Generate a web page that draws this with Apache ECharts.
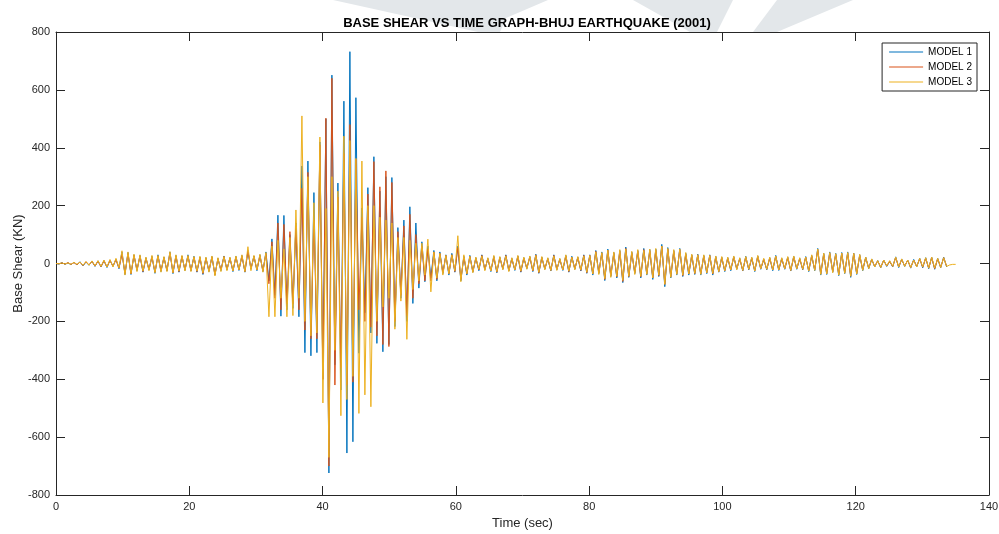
<!DOCTYPE html>
<html>
<head>
<meta charset="utf-8">
<script src="https://cdn.jsdelivr.net/npm/echarts@6/dist/echarts.min.js"></script>
<style>
  html, body { margin: 0; padding: 0; background: #fff; }
  #chart { width: 999px; height: 534px; }
</style>
</head>
<body>
<div id="chart"></div>
<script>
// time step between read-off turning points (sec)
var timeStep = 0.45;

// base shear (KN), one value per time step
var model1 = [
    0, -2, 3, -3, 2, -4, 4, -5, 6, -8,
    5, -6, 8, -10, 9, -12, 10, -14, 12, -10,
    15, -18, 40, -38, 38, -38, 30, -25, 28, -30,
    20, -22, 25, -34, 30, -28, 22, -26, 40, -35,
    28, -30, 26, -24, 30, -26, 25, -30, 22, -38,
    20, -28, 24, -40, 18, -25, 26, -22, 20, -28,
    25, -24, 28, -30, 45, -20, 26, -25, 30, -28,
    40, -60, 85, -110, 167, -182, 166, -160, 100, -155,
    140, -184, 337, -308, 354, -319, 245, -308, 420, -400,
    500, -724, 651, -350, 278, -437, 561, -655, 732, -616,
    573, -310, 192, -170, 262, -240, 369, -276, 250, -305,
    300, -280, 297, -218, 124, -120, 150, -200, 196, -138,
    140, -85, 75, -63, 60, -50, 45, -60, 40, -35,
    30, -40, 35, -30, 60, -60, 25, -40, 28, -30,
    20, -25, 30, -22, 18, -28, 25, -32, 22, -20,
    30, -26, 18, -24, 26, -30, 20, -18, 24, -28,
    32, -34, 22, -20, 18, -26, 30, -22, 16, -24,
    28, -30, 25, -20, 22, -26, 30, -34, 30, -40,
    45, -35, 40, -59, 50, -45, 38, -50, 45, -66,
    57, -48, 40, -35, 45, -50, 52, -40, 48, -55,
    50, -45, 66, -80, 55, -50, 45, -40, 52, -45,
    35, -40, 30, -38, 32, -40, 28, -35, 30, -40,
    25, -30, 22, -28, 20, -25, 24, -20, 18, -26,
    25, -22, 20, -28, 26, -20, 15, -22, 20, -25,
    28, -24, 18, -20, 22, -26, 25, -20, 18, -22,
    24, -28, 28, -25, 52, -40, 35, -38, 40, -30,
    35, -42, 38, -35, 40, -48, 36, -38, 30, -25,
    22, -18, 15, -12, 10, -15, 12, -10, 8, -12,
    23, -14, 15, -10, 12, -16, 14, -12, 18, -15,
    20, -18, 22, -20, 18, -15, 22, -12, null, null,
    null
];

var model2 = [
    0, -1, 2, -2, 3, -3, 3, -4, 5, -7,
    6, -5, 7, -9, 8, -11, 9, -12, 10, -9,
    13, -16, 32, -34, 34, -36, 28, -22, 25, -28,
    18, -20, 22, -30, 26, -25, 20, -24, 36, -32,
    25, -28, 24, -22, 26, -24, 22, -28, 20, -35,
    18, -25, 22, -38, 16, -22, 24, -20, 18, -25,
    22, -22, 25, -28, 42, -18, 24, -22, 26, -25,
    35, -70, 75, -120, 140, -160, 135, -140, 110, -140,
    130, -160, 260, -230, 315, -260, 150, -260, 410, -400,
    502, -700, 640, -420, 230, -360, 380, -420, 480, -410,
    360, -160, 160, -200, 240, -220, 352, -250, 265, -280,
    320, -287, 280, -200, 110, -110, 130, -180, 170, -120,
    100, -70, 60, -60, 50, -60, 40, -55, 35, -32,
    28, -35, 30, -28, 55, -55, 22, -36, 25, -28,
    18, -22, 28, -20, 16, -25, 22, -30, 20, -18,
    28, -24, 16, -22, 24, -28, 18, -16, 22, -26,
    30, -32, 20, -18, 16, -24, 28, -20, 14, -22,
    26, -28, 22, -18, 20, -24, 28, -32, 28, -36,
    42, -32, 36, -55, 46, -42, 35, -46, 42, -62,
    52, -45, 36, -32, 42, -46, 48, -36, 44, -50,
    46, -42, 60, -72, 50, -46, 42, -36, 48, -42,
    32, -36, 28, -35, 30, -36, 26, -32, 28, -36,
    22, -28, 20, -25, 18, -22, 22, -18, 16, -24,
    22, -20, 18, -25, 24, -18, 14, -20, 18, -22,
    25, -22, 16, -18, 20, -24, 22, -18, 16, -20,
    22, -25, 26, -22, 48, -36, 32, -35, 36, -28,
    32, -38, 35, -32, 36, -44, 34, -35, 28, -22,
    20, -16, 14, -10, 9, -13, 11, -9, 7, -10,
    20, -12, 14, -9, 11, -14, 12, -10, 16, -13,
    18, -16, 20, -18, 16, -13, 20, -10, null, null,
    null
];

var model3 = [
    0, -1, 2, -2, 2, -3, 4, -3, 5, -6,
    7, -6, 9, -8, 10, -10, 12, -12, 14, -12,
    18, -15, 44, -40, 40, -35, 32, -28, 30, -26,
    22, -25, 28, -32, 28, -30, 24, -28, 41, -32,
    30, -26, 28, -26, 28, -28, 24, -26, 25, -32,
    22, -30, 26, -43, 20, -28, 24, -25, 22, -26,
    26, -22, 30, -28, 58, -25, 28, -22, 32, -30,
    38, -184, 60, -184, 80, -120, 50, -184, 90, -180,
    185, -120, 510, -200, 300, -250, 210, -240, 437, -482,
    190, -670, 300, -300, 250, -526, 440, -470, 425, -390,
    363, -518, 354, -454, 200, -495, 200, -200, 160, -150,
    150, -120, 140, -227, 90, -130, 90, -262, 80, -90,
    70, -60, 70, -40, 84, -98, 40, -50, 35, -40,
    28, -35, 30, -25, 96, -63, 30, -35, 25, -32,
    22, -20, 26, -25, 20, -26, 28, -28, 24, -22,
    26, -28, 20, -22, 28, -26, 22, -20, 26, -24,
    28, -30, 24, -22, 20, -24, 26, -24, 18, -22,
    30, -26, 22, -22, 24, -22, 26, -30, 28, -36,
    40, -38, 38, -52, 46, -48, 40, -44, 48, -58,
    50, -44, 42, -38, 48, -44, 45, -38, 50, -50,
    52, -40, 60, -72, 52, -48, 48, -38, 50, -40,
    38, -36, 32, -34, 30, -38, 30, -32, 28, -34,
    26, -28, 24, -25, 22, -22, 26, -22, 20, -24,
    24, -20, 22, -26, 28, -18, 18, -20, 22, -22,
    26, -22, 20, -18, 24, -24, 26, -18, 20, -20,
    22, -26, 30, -24, 50, -38, 36, -36, 38, -32,
    34, -40, 36, -34, 38, -44, 35, -36, 32, -24,
    22, -18, 16, -12, 10, -14, 12, -8, 10, -10,
    22, -12, 16, -10, 12, -14, 12, -12, 18, -12,
    20, -16, 22, -16, 18, -14, 20, -10, -5, -3,
    -3
];

var seriesNames = ['MODEL 1', 'MODEL 2', 'MODEL 3'];
var seriesColors = ['#0072BD', '#D95319', '#EDB120'];
var xTicks = [0, 20, 40, 60, 80, 100, 120, 140];
var yTicks = [-800, -600, -400, -200, 0, 200, 400, 600, 800];

(function () {
    var myChart = echarts.init(document.getElementById('chart'), null, { renderer: 'canvas' });
    var font = 'Liberation Sans, Arial, sans-serif';
    var axisColor = '#262626';
    var markColor = '#e3e7ea'; // faint watermark behind the title

    function toPoints(values) {
        return values.map(function (v, i) {
            return [+(i * timeStep).toFixed(2), v];
        });
    }

    var boxAxis = {
        axisLine: { show: true, onZero: false, lineStyle: { color: axisColor, width: 1 } },
        axisTick: { show: true, inside: true, length: 9, lineStyle: { color: axisColor } },
        splitLine: { show: false }
    };

    var option = {
        animation: false,
        backgroundColor: '#fff',
        graphic: [
            { type: 'polygon', z: -10, silent: true, shape: { points: [[333, 0], [548, 0], [506, 18], [500, 32], [478, 32]] }, style: { fill: markColor } },
            { type: 'polygon', z: -10, silent: true, shape: { points: [[633, 0], [733, 0], [717, 32], [690, 32]] }, style: { fill: markColor } },
            { type: 'polygon', z: -10, silent: true, shape: { points: [[777, 0], [853, 0], [777, 32], [753, 32]] }, style: { fill: markColor } }
        ],
        title: {
            text: 'BASE SHEAR VS TIME GRAPH-BHUJ EARTHQUAKE (2001)',
            left: 522,
            textAlign: 'center',
            top: 12,
            textStyle: { fontFamily: font, fontSize: 13, fontWeight: 'bold', color: '#000' }
        },
        legend: {
            data: seriesNames,
            orient: 'vertical',
            right: 22,
            top: 43,
            icon: 'rect',
            itemWidth: 34,
            itemHeight: 1,
            itemGap: 3,
            padding: [3, 5, 3, 7],
            borderColor: '#262626',
            borderWidth: 1,
            backgroundColor: '#fff',
            textStyle: { fontFamily: font, fontSize: 10, lineHeight: 12, color: '#000' }
        },
        grid: { left: 56, right: 10, top: 32, bottom: 39, outerBoundsMode: 'none' },
        xAxis: [
            Object.assign({}, boxAxis, {
                type: 'value', min: xTicks[0], max: xTicks[xTicks.length - 1], interval: 20,
                name: 'Time (sec)', nameLocation: 'middle', nameGap: 22, nameMoveOverlap: false,
                nameTextStyle: { fontFamily: font, fontSize: 13, color: axisColor },
                axisLabel: { fontFamily: font, fontSize: 11, color: axisColor, margin: 6 }
            }),
            Object.assign({}, boxAxis, {
                type: 'value', position: 'top', min: xTicks[0], max: xTicks[xTicks.length - 1], interval: 20,
                axisLabel: { show: false }
            })
        ],
        yAxis: [
            Object.assign({}, boxAxis, {
                type: 'value', min: yTicks[0], max: yTicks[yTicks.length - 1], interval: 200,
                name: 'Base Shear (KN)', nameLocation: 'middle', nameGap: 31, nameMoveOverlap: false,
                nameTextStyle: { fontFamily: font, fontSize: 13, color: axisColor },
                axisLabel: { fontFamily: font, fontSize: 11, color: axisColor, margin: 6 }
            }),
            Object.assign({}, boxAxis, {
                type: 'value', position: 'right', min: yTicks[0], max: yTicks[yTicks.length - 1], interval: 200,
                axisLabel: { show: false }
            })
        ],
        series: [model1, model2, model3].map(function (vals, k) {
            return {
                name: seriesNames[k],
                type: 'line',
                data: toPoints(vals),
                symbol: 'none',
                connectNulls: false,
                color: seriesColors[k],
                lineStyle: { width: 1, color: seriesColors[k] },
                z: 2 + k
            };
        })
    };
    myChart.setOption(option);
})();
</script>
</body>
</html>
